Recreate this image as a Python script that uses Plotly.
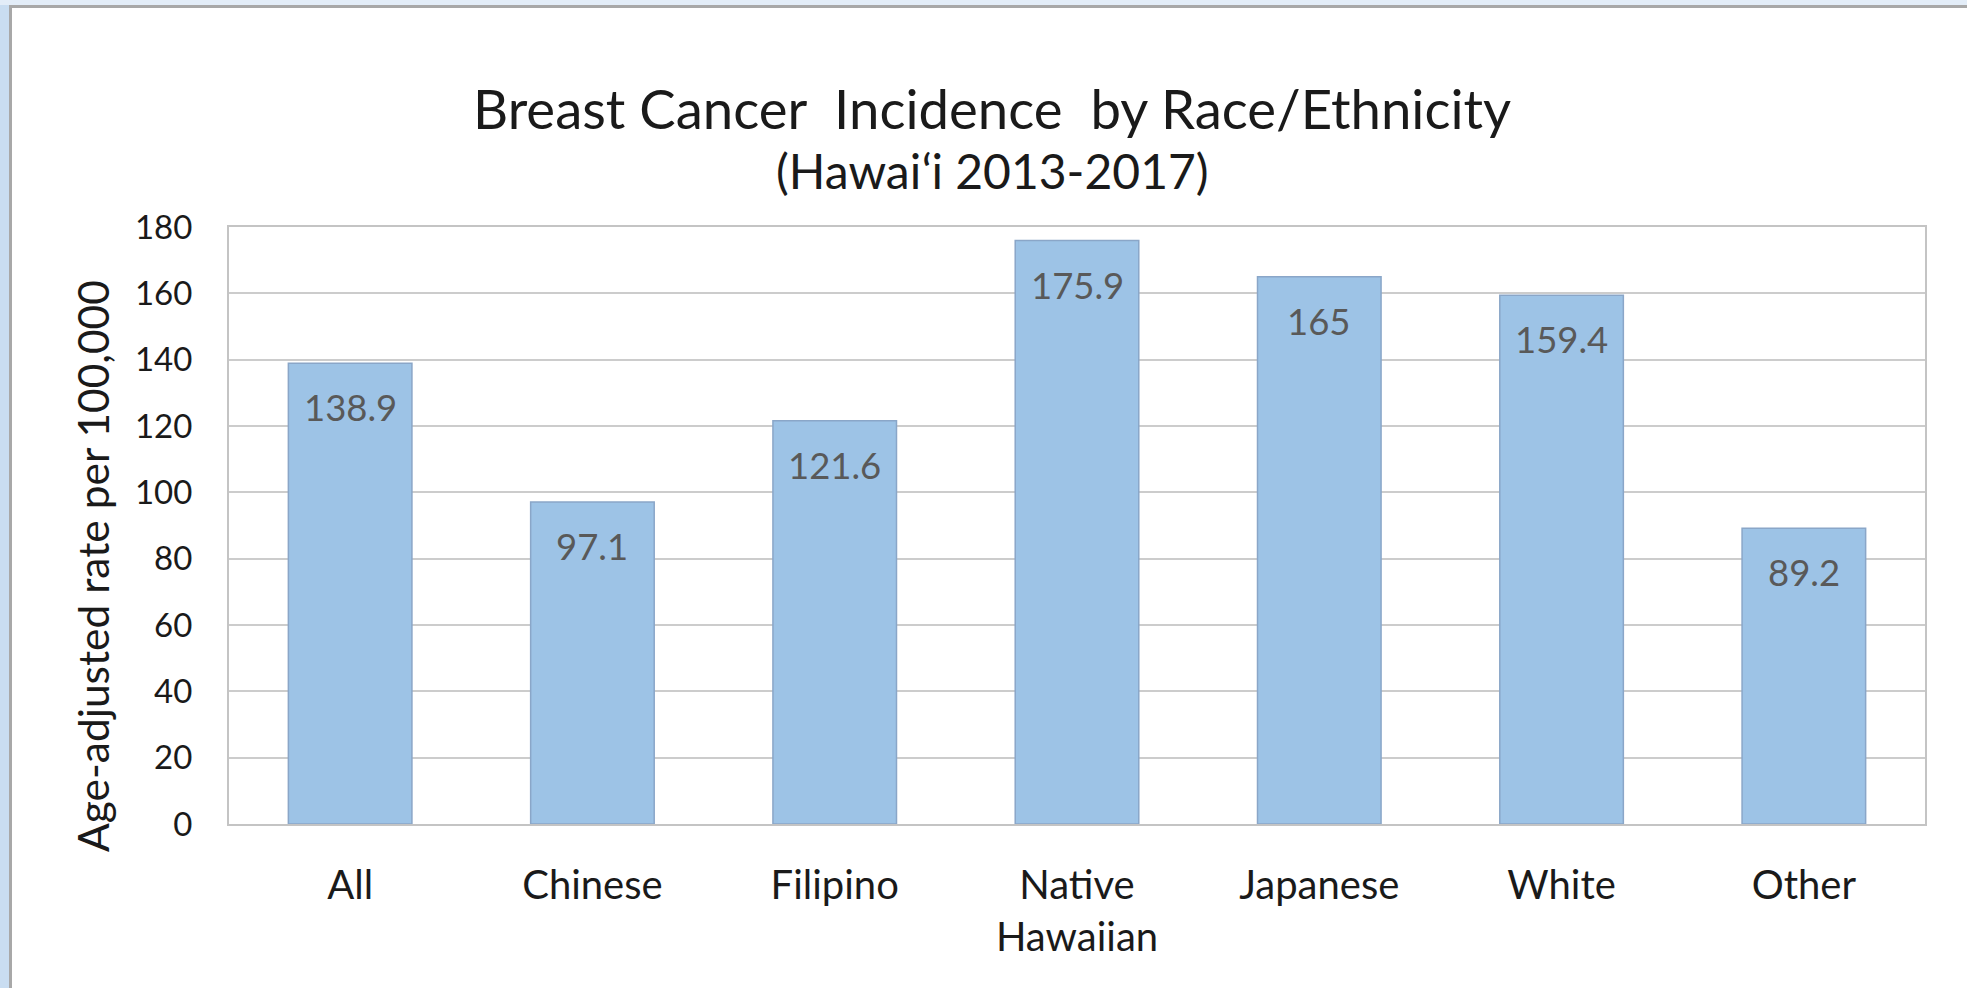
import plotly.graph_objects as go

# Breast cancer incidence, Hawai'i 2013-2017 (age-adjusted rate per 100,000)
categories = ["All", "Chinese", "Filipino", "Native<br>Hawaiian", "Japanese", "White", "Other"]
rates = [138.9, 97.1, 121.6, 175.9, 165.0, 159.4, 89.2]
value_labels = ["138.9", "97.1", "121.6", "175.9", "165", "159.4", "89.2"]
y_ticks = [0, 20, 40, 60, 80, 100, 120, 140, 160, 180]

W, H = 1967, 988
ML, MR, MT, MB = 229, 42, 227, 164
PW, PH = W - ML - MR, H - MT - MB
FONT = "Lato"


def px_x(px):
    return (px - ML) / PW


def px_y(py):
    return 1 - (py - MT) / PH


fig = go.Figure()
fig.add_trace(go.Bar(
    x=categories,
    y=rates,
    width=0.51,
    marker=dict(color="#9DC3E6", line=dict(color="#8AA6C8", width=1.5)),
    hoverinfo="x+y",
))

annotations = []
for cat, val, lab in zip(categories, rates, value_labels):
    annotations.append(dict(
        x=cat, y=val, xref="x", yref="y", text=lab, showarrow=False,
        yanchor="middle", yshift=-44,
        font=dict(family=FONT, size=36.5, color="#595959"),
    ))

# title and subtitle
annotations.append(dict(
    x=px_x(992), y=px_y(108), xref="paper", yref="paper",
    text="Breast Cancer\u00a0 Incidence\u00a0 by Race/Ethnicity", showarrow=False,
    xanchor="center", yanchor="middle",
    font=dict(family=FONT, size=54.5, color="#1a1a1a"),
))
annotations.append(dict(
    x=px_x(992), y=px_y(171), xref="paper", yref="paper",
    text="(Hawai\u02bbi 2013-2017)", showarrow=False,
    xanchor="center", yanchor="middle",
    font=dict(family=FONT, size=48, color="#1a1a1a"),
))
# y-axis title
annotations.append(dict(
    x=px_x(92), y=px_y(566), xref="paper", yref="paper",
    text="Age-adjusted rate per 100,000", showarrow=False, textangle=-90,
    xanchor="center", yanchor="middle",
    font=dict(family=FONT, size=42.5, color="#1a1a1a"),
))

shapes = [
    # window frame: blue strip on the left and top, grey edge line
    dict(type="rect", xref="paper", yref="paper", layer="below",
         x0=px_x(0), x1=px_x(10), y0=px_y(0), y1=px_y(H),
         fillcolor="#C9DDF1", line=dict(width=0)),
    dict(type="rect", xref="paper", yref="paper", layer="below",
         x0=px_x(0), x1=px_x(W), y0=px_y(0), y1=px_y(5),
         fillcolor="#E3EDF8", line=dict(width=0)),
    dict(type="line", xref="paper", yref="paper", layer="below",
         x0=px_x(10.5), x1=px_x(10.5), y0=px_y(6), y1=px_y(H),
         line=dict(color="#A8A8A8", width=3)),
    dict(type="line", xref="paper", yref="paper", layer="below",
         x0=px_x(9), x1=px_x(W), y0=px_y(6.5), y1=px_y(6.5),
         line=dict(color="#A8A8A8", width=3)),
]

fig.update_layout(
    width=W, height=H,
    margin=dict(l=ML, r=MR, t=MT, b=MB, pad=0),
    paper_bgcolor="white", plot_bgcolor="white",
    showlegend=False,
    annotations=annotations,
    shapes=shapes,
    font=dict(family=FONT, color="#1a1a1a"),
    xaxis=dict(
        tickfont=dict(family=FONT, size=40, color="#1a1a1a"),
        showline=True, mirror=True, linecolor="#C4C4C4", linewidth=2,
        showgrid=False, ticks="", ticklabelstandoff=25,
    ),
    yaxis=dict(
        range=[0, 180], tickvals=y_ticks,
        tickfont=dict(family=FONT, size=33, color="#1a1a1a"),
        showline=True, mirror=True, linecolor="#C4C4C4", linewidth=2,
        showgrid=True, gridcolor="#CCCCCC", gridwidth=2,
        zeroline=False, ticks="", ticklabelstandoff=28,
    ),
)

fig.write_html("out.html")
